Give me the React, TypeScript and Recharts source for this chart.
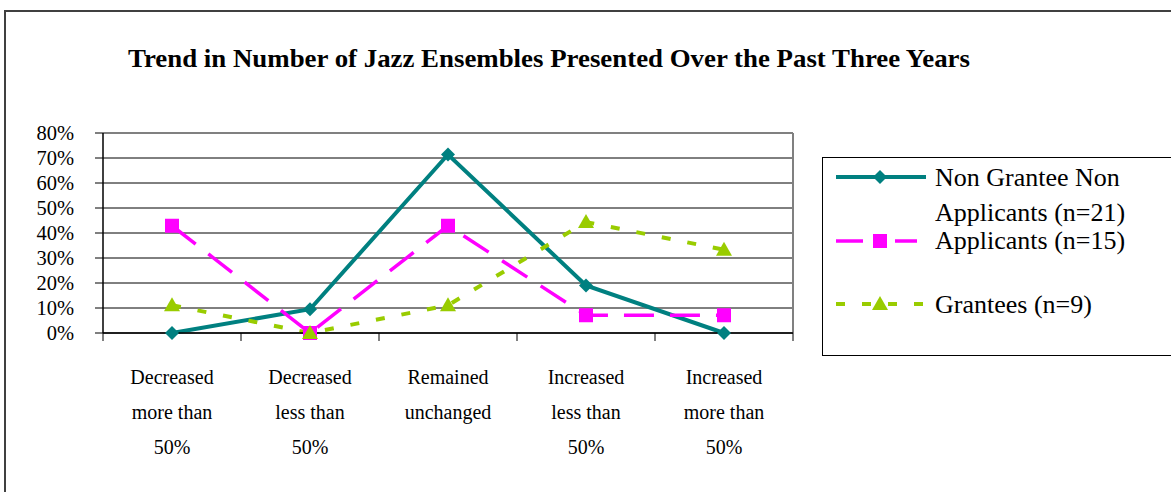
import { LineChart, Line, XAxis, YAxis, CartesianGrid, ReferenceLine } from 'recharts';

const categories = [
  ['Decreased', 'more than', '50%'],
  ['Decreased', 'less than', '50%'],
  ['Remained', 'unchanged'],
  ['Increased', 'less than', '50%'],
  ['Increased', 'more than', '50%'],
];
const nonGrantee = [0, 9.5, 71.4, 19.0, 0];
const applicants = [42.9, 0, 42.9, 7.1, 7.1];
const grantees = [11.1, 0, 11.1, 44.4, 33.3];
const yTicks = [0, 10, 20, 30, 40, 50, 60, 70, 80];

const TEAL = '#008080';
const PINK = '#FF00FF';
const GREEN = '#99CC00';
const FONT = '"Liberation Serif", "Times New Roman", serif';

const data = categories.map((c, i) => ({
  pos: i + 0.5,
  nonGrantee: nonGrantee[i],
  applicants: applicants[i],
  grantees: grantees[i],
}));

const xTicks: number[] = [];
for (let i = 0; i <= categories.length * 2; i++) xTicks.push(i / 2);

const Diamond = ({ cx, cy }: any) => (
  <path d={`M${cx},${cy - 7} L${cx + 7},${cy} L${cx},${cy + 7} L${cx - 7},${cy} Z`} fill={TEAL} />
);
const Square = ({ cx, cy }: any) => <rect x={cx - 7} y={cy - 7} width={14} height={14} fill={PINK} />;
const Triangle = ({ cx, cy }: any) => (
  <path d={`M${cx},${cy - 8} L${cx + 8},${cy + 6} L${cx - 8},${cy + 6} Z`} fill={GREEN} />
);

const XTick = ({ x, y, payload }: any) => {
  const v = payload.value;
  if (Number.isInteger(v)) {
    return <line x1={x} y1={y} x2={x} y2={y + 8} stroke="#000" strokeWidth={1} />;
  }
  const lines = categories[Math.floor(v)];
  return (
    <text x={x} y={y} textAnchor="middle" fontFamily={FONT} fontSize={20} fill="#000">
      {lines.map((l, i) => (
        <tspan key={i} x={x} y={y + 51 + i * 35}>
          {l}
        </tspan>
      ))}
    </text>
  );
};

export default function App() {
  return (
    <div style={{ position: 'absolute', left: 0, top: 0, width: 1171, height: 492, background: '#fff', overflow: 'hidden', fontFamily: FONT }}>
      <div style={{ position: 'absolute', left: 4, top: 10, width: 1200, height: 500, border: '2px solid #404040' }} />
      <div style={{ position: 'absolute', left: 0, top: 0 }}>
        <LineChart width={1171} height={492} data={data} margin={{ top: 133, right: 378, bottom: 39, left: 3 }}>
          <CartesianGrid vertical={false} stroke="#000" strokeWidth={1} />
          <XAxis
            dataKey="pos"
            type="number"
            domain={[0, categories.length]}
            ticks={xTicks}
            interval={0}
            height={120}
            tickSize={0}
            tickMargin={0}
            tickLine={false}
            axisLine={{ stroke: '#000', strokeWidth: 1.5 }}
            tick={<XTick />}
          />
          <YAxis
            type="number"
            domain={[0, 80]}
            ticks={yTicks}
            interval={0}
            width={100}
            tickSize={8}
            tickMargin={21}
            tickFormatter={(v) => `${v}%`}
            tickLine={{ stroke: '#000' }}
            axisLine={{ stroke: '#000', strokeWidth: 1.5 }}
            tick={{ fill: '#000', fontFamily: FONT, fontSize: 20.5 }}
          />
          <ReferenceLine y={80} stroke="#808080" strokeWidth={2} />
          <ReferenceLine x={categories.length} stroke="#808080" strokeWidth={2} />
          <Line
            type="linear"
            dataKey="nonGrantee"
            stroke={TEAL}
            strokeWidth={4}
            isAnimationActive={false}
            dot={(p: any) => <Diamond key={`d${p.index}`} cx={p.cx} cy={p.cy} />}
          />
          <Line
            type="linear"
            dataKey="applicants"
            stroke={PINK}
            strokeWidth={3.5}
            strokeDasharray="30 16"
            isAnimationActive={false}
            dot={(p: any) => <Square key={`s${p.index}`} cx={p.cx} cy={p.cy} />}
          />
          <Line
            type="linear"
            dataKey="grantees"
            stroke={GREEN}
            strokeWidth={4}
            strokeDasharray="9 17"
            isAnimationActive={false}
            dot={(p: any) => <Triangle key={`t${p.index}`} cx={p.cx} cy={p.cy} />}
          />
        </LineChart>
      </div>
      <div style={{ position: 'absolute', left: 822, top: 157, width: 400, height: 197, border: '1.5px solid #000', background: '#fff' }} />
      <svg style={{ position: 'absolute', left: 0, top: 0 }} width={1171} height={492}>
        <text x={128} y={67} fontFamily={FONT} fontWeight="bold" fontSize={25} textLength={842} lengthAdjust="spacingAndGlyphs" fill="#000">
          Trend in Number of Jazz Ensembles Presented Over the Past Three Years
        </text>
        <line x1={836} y1={177} x2={926} y2={177} stroke={TEAL} strokeWidth={4} />
        <Diamond cx={880} cy={177} />
        <line x1={836} y1={241} x2={917} y2={241} stroke={PINK} strokeWidth={3.5} strokeDasharray="27 54" />
        <line x1={895} y1={241} x2={917} y2={241} stroke={PINK} strokeWidth={3.5} />
        <Square cx={880} cy={241} />
        <line x1={836} y1={304} x2={926} y2={304} stroke={GREEN} strokeWidth={4} strokeDasharray="9 17" />
        <Triangle cx={880} cy={304} />
        <g fontFamily={FONT} fontSize={26} fill="#000">
          <text x={935} y={186}>Non Grantee Non</text>
          <text x={935} y={221}>Applicants (n=21)</text>
          <text x={935} y={249}>Applicants (n=15)</text>
          <text x={935} y={313}>Grantees (n=9)</text>
        </g>
      </svg>
    </div>
  );
}
